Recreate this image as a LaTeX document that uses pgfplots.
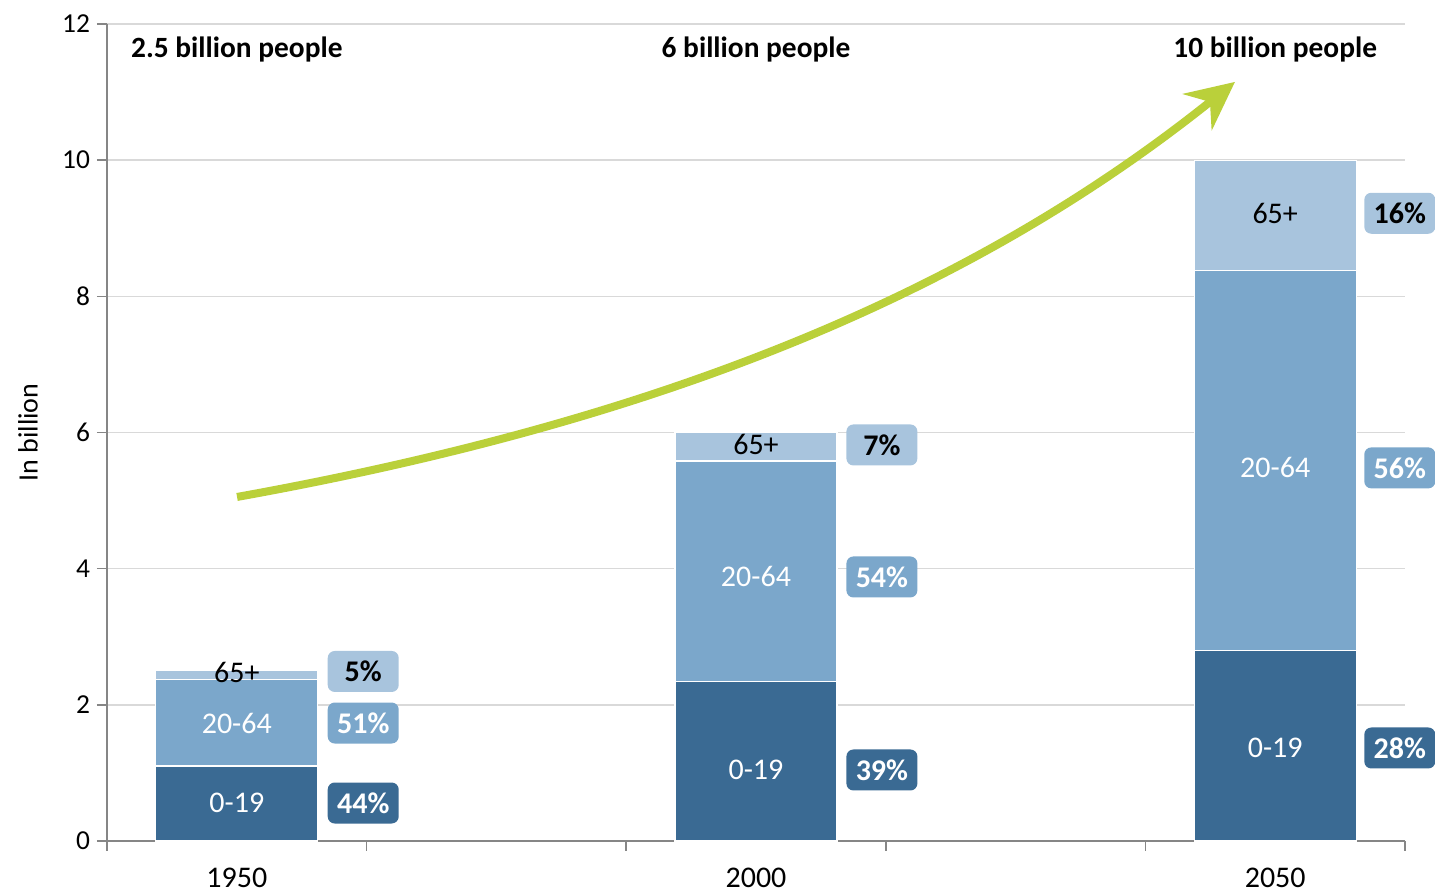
\documentclass[border=0pt]{standalone}
\usepackage{fontspec}
\setmainfont{Carlito}
\usepackage{pgfplots}
\pgfplotsset{compat=1.18}
\usetikzlibrary{arrows.meta}
\definecolor{cDark}{HTML}{3A6A93}
\definecolor{cMid}{HTML}{7BA7CB}
\definecolor{cLight}{HTML}{A8C4DD}
\definecolor{cGreen}{HTML}{BAD03A}
\definecolor{cAxis}{HTML}{868686}
\definecolor{cGrid}{HTML}{D9D9D9}
\begin{document}
\begin{tikzpicture}[
  box/.style={rounded corners=3.5pt, minimum width=35.5pt, minimum height=20.5pt, inner sep=0pt, font=\bfseries\fontsize{15}{18}\selectfont},
  seg/.style={font=\fontsize{15}{18}\selectfont},
  top/.style={font=\bfseries\fontsize{14.7}{17}\selectfont}
]
\begin{axis}[
  scale only axis, width=649pt, height=408.5pt,
  xmin=0, xmax=5, ymin=0, ymax=12,
  ybar stacked, bar width=0.624,
  axis x line*=bottom, axis y line*=left,
  axis line style={cAxis, line width=0.8pt},
  xtick={0,1,2,3,4,5}, xticklabels={},
  extra x ticks={0.5,2.5,4.5}, extra x tick labels={1950,2000,2050},
  extra x tick style={major tick length=0pt, grid=none, tick label style={font=\fontsize{15}{18}\selectfont, yshift=-10pt}},
  ytick={0,2,4,6,8,10,12},
  ymajorgrids, grid style={cGrid, line width=0.8pt},
  tick align=outside, major tick length=5pt, tick style={cAxis, line width=0.8pt},
  yticklabel style={font=\fontsize{13.7}{16}\selectfont},
  /pgf/number format/assume math mode=true,
  ylabel={In billion},
  every axis y label/.style={at={(axis description cs:0,0.5)}, xshift=-39.5pt, rotate=90, anchor=center, font=\fontsize{14}{17}\selectfont},
  clip=false,
]
\addplot[fill=cDark, draw=white, line width=0.6pt] coordinates {(0.5,1.10) (2.5,2.34) (4.5,2.80)};
\addplot[fill=cMid, draw=white, line width=0.6pt] coordinates {(0.5,1.27) (2.5,3.24) (4.5,5.58)};
\addplot[fill=cLight, draw=white, line width=0.6pt] coordinates {(0.5,0.13) (2.5,0.42) (4.5,1.62)};

\coordinate (O) at (rel axis cs:0,0);
% arrow control points
\coordinate (A0) at (axis cs:0.501,5.053);
\coordinate (A1) at (axis cs:2.234,6.243);
\coordinate (A2) at (axis cs:3.382,8.211);
\coordinate (A3) at (axis cs:4.345,11.149);
% segment label positions
\coordinate (s11) at (axis cs:0.5,0.558);
\coordinate (s12) at (axis cs:0.5,1.733);
\coordinate (s13) at (axis cs:0.5,2.48);
\coordinate (s21) at (axis cs:2.5,1.043);
\coordinate (s22) at (axis cs:2.5,3.878);
\coordinate (s23) at (axis cs:2.5,5.817);
\coordinate (s31) at (axis cs:4.5,1.366);
\coordinate (s32) at (axis cs:4.5,5.48);
\coordinate (s33) at (axis cs:4.5,9.22);
% box positions
\coordinate (b11) at (axis cs:0.987,0.558);
\coordinate (b12) at (axis cs:0.987,1.733);
\coordinate (b13) at (axis cs:0.987,2.49);
\coordinate (b21) at (axis cs:2.985,1.043);
\coordinate (b22) at (axis cs:2.985,3.878);
\coordinate (b23) at (axis cs:2.985,5.817);
\coordinate (b31) at (axis cs:4.98,1.366);
\coordinate (b32) at (axis cs:4.98,5.48);
\coordinate (b33) at (axis cs:4.98,9.22);
% totals
\coordinate (t1) at (axis cs:0.5,11.63);
\coordinate (t2) at (axis cs:2.5,11.63);
\coordinate (t3) at (axis cs:4.5,11.63);
\end{axis}

\draw[cGreen, line width=4pt, -{Stealth[length=24pt,width=23pt,inset=8pt]}]
  (A0) .. controls (A1) and (A2) .. (A3);

\node[seg, text=white] at (s11) {0-19};
\node[seg, text=white] at (s12) {20-64};
\node[seg, text=black] at (s13) {65+};
\node[seg, text=white] at (s21) {0-19};
\node[seg, text=white] at (s22) {20-64};
\node[seg, text=black] at (s23) {65+};
\node[seg, text=white] at (s31) {0-19};
\node[seg, text=white] at (s32) {20-64};
\node[seg, text=black] at (s33) {65+};

\node[box, fill=cDark, text=white] at (b11) {44\%};
\node[box, fill=cMid, text=white] at (b12) {51\%};
\node[box, fill=cLight, text=black] at (b13) {5\%};
\node[box, fill=cDark, text=white] at (b21) {39\%};
\node[box, fill=cMid, text=white] at (b22) {54\%};
\node[box, fill=cLight, text=black] at (b23) {7\%};
\node[box, fill=cDark, text=white] at (b31) {28\%};
\node[box, fill=cMid, text=white] at (b32) {56\%};
\node[box, fill=cLight, text=black] at (b33) {16\%};

\node[top] at (t1) {2.5 billion people};
\node[top] at (t2) {6 billion people};
\node[top] at (t3) {10 billion people};

\pgfresetboundingbox
\path[use as bounding box] ([shift={(-53.5pt,-25.5pt)}]O) rectangle ([shift={(664pt,420.5pt)}]O);
\end{tikzpicture}
\end{document}
